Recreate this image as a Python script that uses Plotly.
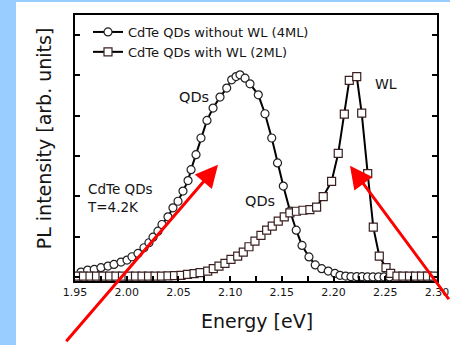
import plotly.graph_objects as go

# PL spectra of CdTe QDs at 4.2 K
energy_no_wl = [1.9558, 1.9622, 1.9686, 1.9751, 1.9819, 1.9877, 1.9945, 2.0003, 2.0051, 2.0109,
                2.0167, 2.0215, 2.0254, 2.0302, 2.0341, 2.0399, 2.0447, 2.0496, 2.0544, 2.0593,
                2.0622, 2.0670, 2.0718, 2.0776, 2.0835, 2.0902, 2.0967, 2.1015, 2.1057, 2.1095,
                2.1144, 2.1192, 2.1272, 2.1337, 2.1402, 2.1458, 2.1514, 2.1579, 2.1639, 2.1695,
                2.1762, 2.1823, 2.1885, 2.1949, 2.2014, 2.2062, 2.2117, 2.2168, 2.2224, 2.2275,
                2.2328, 2.2381, 2.2434, 2.2488, 2.2540]
pl_no_wl = [0.121, 0.171, 0.188, 0.230, 0.270, 0.312, 0.369, 0.418, 0.502, 0.584,
            0.725, 0.849, 0.988, 1.136, 1.302, 1.493, 1.715, 1.879, 2.131, 2.391,
            2.663, 3.035, 3.448, 3.884, 4.191, 4.463, 4.686, 4.891, 4.973, 5.015,
            4.933, 4.792, 4.520, 4.050, 3.448, 2.829, 2.255, 1.636, 1.161, 0.782,
            0.498, 0.300, 0.205, 0.146, 0.089, 0.040, 0.022, 0.007, 0.007, 0.007,
            0.0, 0.0, 0.0, 0.0, 0.0]

energy_wl = [1.9529, 1.9582, 1.9645, 1.9708, 1.9771, 1.9834, 1.9896, 1.9959, 2.0022, 2.0085,
             2.0148, 2.0211, 2.0274, 2.0336, 2.0399, 2.0462, 2.0525, 2.0588, 2.0651, 2.0709,
             2.0783, 2.0837, 2.0892, 2.0950, 2.1008, 2.1073, 2.1127, 2.1182, 2.1240, 2.1298,
             2.1353, 2.1407, 2.1465, 2.1523, 2.1578, 2.1641, 2.1704, 2.1771, 2.1836, 2.1900,
             2.1981, 2.2045, 2.2104, 2.2152, 2.2224, 2.2272, 2.2330, 2.2384, 2.2442, 2.2507,
             2.2552, 2.2613, 2.2671, 2.2734, 2.2792, 2.2850, 2.2908, 2.2966]
pl_wl = [0.022, 0.022, 0.022, 0.022, 0.022, 0.022, 0.022, 0.022, 0.022, 0.022,
         0.022, 0.022, 0.022, 0.022, 0.027, 0.032, 0.040, 0.064, 0.082, 0.106,
         0.146, 0.205, 0.270, 0.337, 0.436, 0.517, 0.616, 0.750, 0.889, 1.030,
         1.161, 1.260, 1.384, 1.493, 1.592, 1.631, 1.656, 1.673, 1.735, 1.995,
         2.374, 3.067, 4.040, 4.879, 4.973, 4.067, 2.564, 1.235, 0.517, 0.230,
         0.089, 0.022, 0.022, 0.022, 0.022, 0.022, 0.022, 0.022]

x_ticks = [1.95, 2.00, 2.05, 2.10, 2.15, 2.20, 2.25, 2.30]
x_tick_labels = ["1.95", "2.00", "2.05", "2.10", "2.15", "2.20", "2.25", "2.30"]
y_ticks = [0, 1, 2, 3, 4, 5, 6]

FONT = "DejaVu Sans"
INK = "#151515"

fig = go.Figure()
fig.add_trace(go.Scatter(
    x=energy_no_wl, y=pl_no_wl, mode="lines+markers",
    name="CdTe QDs without WL (4ML)",
    line=dict(color="black", width=2),
    marker=dict(symbol="circle", size=8, color="white",
                line=dict(color="#202020", width=1.2)),
    cliponaxis=False,
))
fig.add_trace(go.Scatter(
    x=energy_wl, y=pl_wl, mode="lines+markers",
    name="CdTe QDs with WL (2ML)",
    line=dict(color="black", width=2),
    marker=dict(symbol="square", size=8, color="white",
                line=dict(color="#3a2020", width=1.2)),
    cliponaxis=False,
))

# plot area: 75..437 px horizontally, 15..281.5 px vertically
L, R, T, B = 75, 437, 15, 281.5
W, H = R - L, B - T


def px(x):
    return (x - L) / W


def py(y):
    return (B - y) / H


annotations = [
    dict(text="QDs", x=px(194), y=py(97.5), font=dict(size=14.5)),
    dict(text="WL", x=px(386), y=py(84), font=dict(size=14)),
    dict(text="QDs", x=px(259.5), y=py(201), font=dict(size=14.5)),
    dict(text="CdTe QDs<br>T=4.2K", x=px(85), y=py(198), xanchor="left",
         align="left", font=dict(size=13.5)),
    dict(text="Energy [eV]", x=px(256.5), y=py(322), font=dict(size=19)),
    dict(text="PL intensity [arb. units]", x=px(44), y=py(138.5),
         textangle=-90, font=dict(size=19)),
]
for a in annotations:
    a.setdefault("xanchor", "center")
    a["xref"] = "paper"
    a["yref"] = "paper"
    a["yanchor"] = "middle"
    a["showarrow"] = False
    a["font"] = dict(family=FONT, color=INK, **a["font"])

# red pointer arrows
for tip, tail in [((218, 165), (65, 343)), ((350, 166), (465, 301))]:
    annotations.append(dict(
        text="", xref="paper", yref="paper", x=px(tip[0]), y=py(tip[1]),
        ax=tail[0] - tip[0], ay=tail[1] - tip[1], axref="pixel", ayref="pixel",
        showarrow=True, arrowhead=2, arrowsize=1.5, arrowwidth=3,
        arrowcolor="#ff0000", standoff=0,
    ))

fig.update_layout(
    width=450, height=345,
    margin=dict(l=L, r=450 - R, t=T, b=345 - B, pad=0, autoexpand=False),
    paper_bgcolor="#99ccff",
    plot_bgcolor="white",
    font=dict(family=FONT, color=INK),
    showlegend=True,
    legend=dict(x=px(88), y=py(17), xanchor="left", yanchor="top",
                bgcolor="rgba(0,0,0,0)", borderwidth=0,
                font=dict(family=FONT, size=13, color=INK),
                itemsizing="trace"),
    annotations=annotations,
    shapes=[dict(type="rect", xref="paper", yref="paper",
                 x0=px(16), x1=px(452), y0=py(347), y1=py(2),
                 fillcolor="white", line=dict(width=0), layer="below")],
)
fig.update_xaxes(
    range=[1.95, 2.30], tickvals=x_ticks, ticktext=x_tick_labels,
    ticks="inside", ticklen=5, tickwidth=1.5, tickcolor="black",
    showline=True, linewidth=2, linecolor="black", mirror=True,
    showgrid=False, zeroline=False, automargin=False,
    minor=dict(dtick=0.025, tick0=1.95, ticks="inside", ticklen=5,
               tickwidth=1.5, tickcolor="black", showgrid=False),
    tickfont=dict(family=FONT, size=11, color=INK),
)
fig.update_yaxes(
    range=[-0.1, 6.5], tickvals=y_ticks, showticklabels=False,
    ticks="inside", ticklen=5, tickwidth=1.5, tickcolor="black",
    showline=True, linewidth=2, linecolor="black", mirror="ticks",
    showgrid=False, zeroline=False, automargin=False,
)

fig.write_html("out.html")
